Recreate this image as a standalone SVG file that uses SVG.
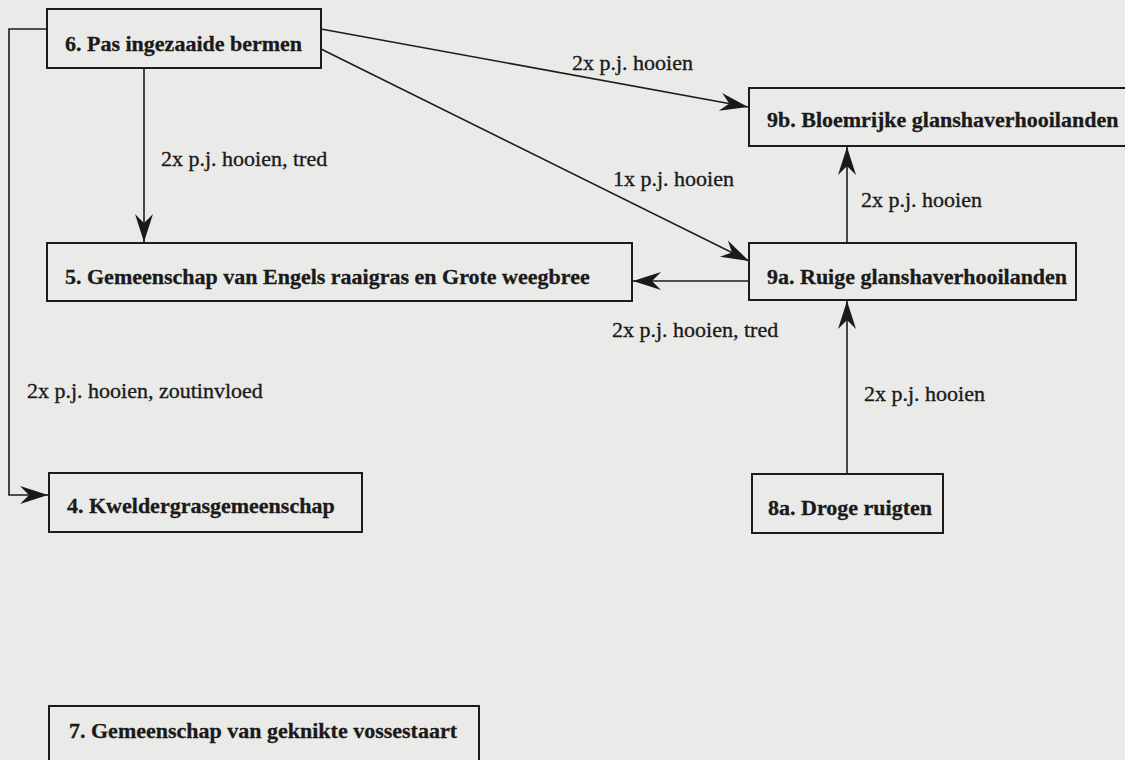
<svg xmlns="http://www.w3.org/2000/svg" width="1125" height="760" viewBox="0 0 1125 760">
  <style>
    .box { fill: none; stroke: #1c1c1c; stroke-width: 2; }
    .nt { font-family: "Liberation Serif", "Times New Roman", serif; font-size: 22px; font-weight: bold; fill: #1a1a1a; stroke: #1a1a1a; stroke-width: 0.3; }
    .lbl { font-family: "Liberation Serif", "Times New Roman", serif; font-size: 22px; fill: #1a1a1a; stroke: #1a1a1a; stroke-width: 0.35; }
    .edge { fill: none; stroke: #1c1c1c; stroke-width: 1.6; }
  </style>
  <defs>
    <marker id="arr" markerUnits="userSpaceOnUse" markerWidth="32" markerHeight="22" viewBox="-29 -11 31 22" refX="0" refY="0" orient="auto">
      <path d="M0,0 L-28,-9 L-19,0 L-28,9 Z" fill="#1a1a1a"/>
    </marker>
  </defs>
  <rect x="0" y="0" width="1125" height="760" fill="#eaeae8"/>

  <g id="connectors">
    <polyline class="edge" points="47,29 9,29 9,495 48,495" marker-end="url(#arr)"/>
    <line class="edge" x1="144" y1="68" x2="144" y2="242" marker-end="url(#arr)"/>
    <line class="edge" x1="321" y1="29" x2="748" y2="107" marker-end="url(#arr)"/>
    <line class="edge" x1="321" y1="49" x2="749" y2="261" marker-end="url(#arr)"/>
    <line class="edge" x1="749" y1="281" x2="633" y2="281" marker-end="url(#arr)"/>
    <line class="edge" x1="847" y1="243" x2="847" y2="147" marker-end="url(#arr)"/>
    <line class="edge" x1="847" y1="474" x2="847" y2="301" marker-end="url(#arr)"/>
    <text class="lbl" x="572" y="70">2x p.j. hooien</text>
    <text class="lbl" x="161" y="166">2x p.j. hooien, tred</text>
    <text class="lbl" x="613" y="186">1x p.j. hooien</text>
    <text class="lbl" x="861" y="207">2x p.j. hooien</text>
    <text class="lbl" x="612" y="337">2x p.j. hooien, tred</text>
    <text class="lbl" x="864" y="401">2x p.j. hooien</text>
    <text class="lbl" x="27" y="398">2x p.j. hooien, zoutinvloed</text>
  </g>

  <g id="n6">
    <rect class="box" x="47" y="9" width="274" height="59"/>
    <text class="nt" x="65" y="51">6. Pas ingezaaide bermen</text>
  </g>
  <g id="n9b">
    <rect class="box" x="749" y="88" width="380" height="58"/>
    <text class="nt" x="767" y="127">9b. Bloemrijke glanshaverhooilanden</text>
  </g>
  <g id="n5">
    <rect class="box" x="47" y="243" width="585" height="58"/>
    <text class="nt" x="65" y="284">5. Gemeenschap van Engels raaigras en Grote weegbree</text>
  </g>
  <g id="n9a">
    <rect class="box" x="749" y="243" width="327" height="57"/>
    <text class="nt" x="767" y="284">9a. Ruige glanshaverhooilanden</text>
  </g>
  <g id="n4">
    <rect class="box" x="49" y="473" width="313" height="59"/>
    <text class="nt" x="67" y="513">4. Kweldergrasgemeenschap</text>
  </g>
  <g id="n8a">
    <rect class="box" x="752" y="474" width="191" height="59"/>
    <text class="nt" x="768" y="515">8a. Droge ruigten</text>
  </g>
  <g id="n7">
    <rect class="box" x="49" y="706" width="430" height="70"/>
    <text class="nt" x="69" y="738">7. Gemeenschap van geknikte vossestaart</text>
  </g>
</svg>
